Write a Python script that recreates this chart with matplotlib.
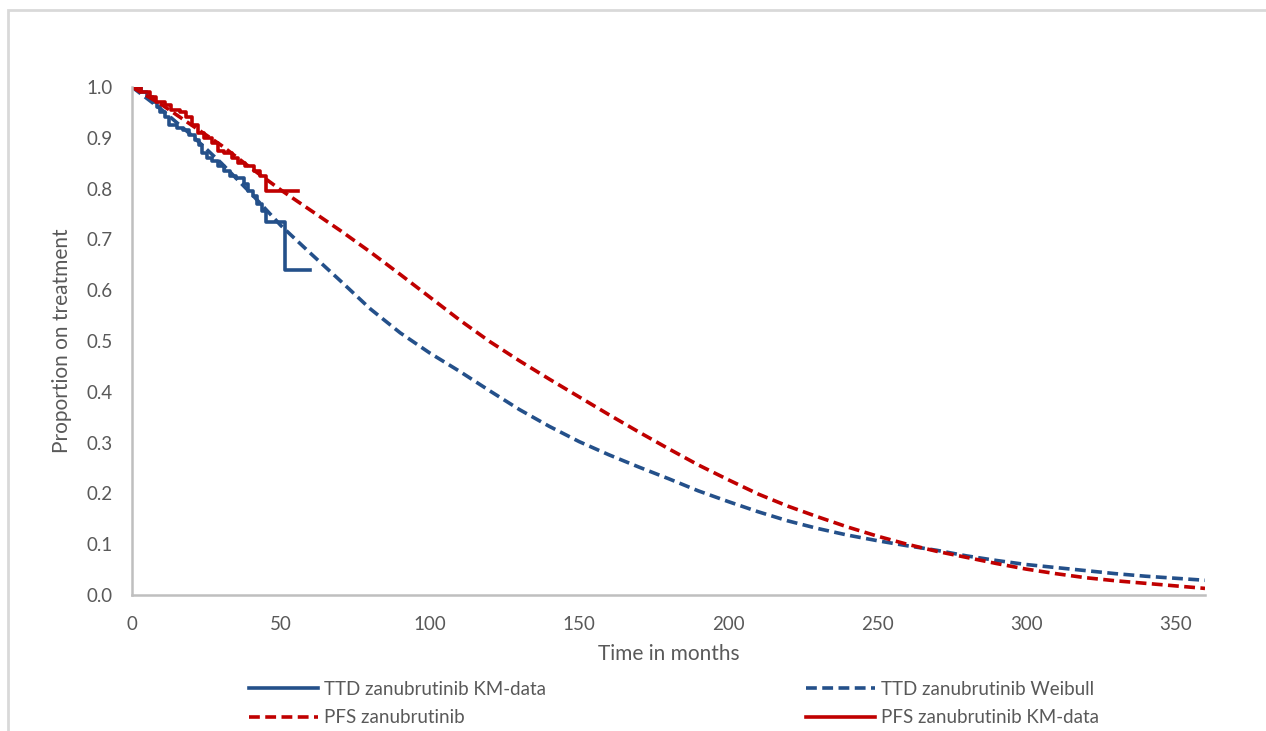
import matplotlib
matplotlib.use('Agg')
import matplotlib.pyplot as plt
from matplotlib.patches import Rectangle
from matplotlib.lines import Line2D

plt.rcParams['font.family'] = ['Lato', 'DejaVu Sans']

# fitted curves, every 10 months
months = [0, 10, 20, 30, 40, 50, 60, 70, 80, 90, 100, 110, 120, 130, 140, 150, 160, 170, 180,
          190, 200, 210, 220, 230, 240, 250, 260, 270, 280, 290, 300, 310, 320, 330, 340, 350, 360]
ttd_weibull = [1.0, 0.955, 0.905, 0.85, 0.79, 0.727, 0.672, 0.618, 0.563, 0.516, 0.476, 0.440,
               0.402, 0.365, 0.332, 0.302, 0.276, 0.252, 0.229, 0.205, 0.184, 0.164, 0.146,
               0.131, 0.118, 0.107, 0.097, 0.088, 0.077, 0.068, 0.060, 0.054, 0.048, 0.042,
               0.037, 0.033, 0.029]
pfs_fit = [1.0, 0.965, 0.925, 0.885, 0.84, 0.797, 0.757, 0.717, 0.675, 0.631, 0.586, 0.541,
           0.499, 0.461, 0.425, 0.39, 0.355, 0.321, 0.288, 0.256, 0.227, 0.199, 0.175, 0.154,
           0.134, 0.116, 0.100, 0.086, 0.074, 0.062, 0.051, 0.042, 0.034, 0.028, 0.023,
           0.018, 0.013]

# KM step data
ttd_km_t = [0, 3, 5, 7, 8.5, 9.5, 11, 12.5, 15, 17, 19, 21, 22.5, 23.5, 25, 27, 29, 31, 33,
            35, 37.5, 39, 40.5, 42, 43.5, 45, 51.5, 59.7]
ttd_km_s = [1.0, 0.99, 0.98, 0.97, 0.96, 0.95, 0.94, 0.925, 0.92, 0.915, 0.905, 0.895, 0.885,
            0.87, 0.86, 0.855, 0.845, 0.835, 0.825, 0.82, 0.81, 0.795, 0.785, 0.77, 0.755,
            0.735, 0.64, 0.64]
pfs_km_t = [0, 3, 6, 8, 11, 13, 16, 18, 20, 22, 24, 27, 29, 31, 33.5, 35.5, 38, 41, 43, 45, 55.8]
pfs_km_s = [1.0, 0.99, 0.98, 0.97, 0.965, 0.955, 0.95, 0.94, 0.925, 0.91, 0.9, 0.89, 0.875,
            0.87, 0.86, 0.85, 0.845, 0.835, 0.825, 0.795, 0.795]

x_ticks = [0, 50, 100, 150, 200, 250, 300, 350]
y_ticks = [0.0, 0.1, 0.2, 0.3, 0.4, 0.5, 0.6, 0.7, 0.8, 0.9, 1.0]

BLUE = '#24508a'
RED = '#c00000'
GREY_TXT = '#595959'
LW = 2.6
DASH = (3.0, 1.5)

fig = plt.figure(figsize=(12.66, 7.31), dpi=100)
# chart area border
fig.patches.append(Rectangle((8 / 1266, -0.1), 1.2, 1 - 10 / 731 + 0.1, transform=fig.transFigure,
                             fill=False, edgecolor='#d9d9d9', lw=2))

ax = fig.add_axes([132 / 1266, 1 - 595 / 731, (1205 - 132) / 1266, (595 - 87) / 731])

l1, = ax.step(ttd_km_t, ttd_km_s, where='post', color=BLUE, lw=LW, label='TTD zanubrutinib KM-data')
l2, = ax.plot(months, ttd_weibull, color=BLUE, lw=LW, dashes=DASH, label='TTD zanubrutinib Weibull')
l3, = ax.plot(months, pfs_fit, color=RED, lw=LW, dashes=DASH, label='PFS zanubrutinib')
l4, = ax.step(pfs_km_t, pfs_km_s, where='post', color=RED, lw=LW, label='PFS zanubrutinib KM-data')

ax.set_xlim(0, 360)
ax.set_ylim(0, 1.0)
ax.set_xticks(x_ticks)
ax.set_yticks(y_ticks)
ax.set_yticklabels([f'{v:.1f}' for v in y_ticks])
ax.tick_params(length=0, labelsize=13.5, colors=GREY_TXT)
ax.tick_params(axis='x', pad=15)
ax.tick_params(axis='y', pad=14)
for s in ['top', 'right']:
    ax.spines[s].set_visible(False)
for s in ['left', 'bottom']:
    ax.spines[s].set_color('#bfbfbf')
    ax.spines[s].set_linewidth(1.8)

ax.set_xlabel('Time in months', fontsize=15, color=GREY_TXT, labelpad=8)
ax.set_ylabel('Proportion on treatment', fontsize=15, color=GREY_TXT, labelpad=10)

leg_kw = dict(loc='upper left', frameon=False, fontsize=13.5, labelcolor=GREY_TXT,
              handlelength=3.7, handletextpad=0.3, labelspacing=0.6, borderpad=0,
              borderaxespad=0)
h_weib = Line2D([], [], color=BLUE, lw=LW, dashes=DASH)
h_pfs = Line2D([], [], color=RED, lw=LW, dashes=DASH)
leg1 = fig.legend([l1, h_pfs], ['TTD zanubrutinib KM-data', 'PFS zanubrutinib'],
                  bbox_to_anchor=(249 / 1266, 1 - 681 / 731), **leg_kw)
leg2 = fig.legend([h_weib, l4], ['TTD zanubrutinib Weibull', 'PFS zanubrutinib KM-data'],
                  bbox_to_anchor=(806 / 1266, 1 - 681 / 731), **leg_kw)

fig.savefig('out.png', dpi=100)
